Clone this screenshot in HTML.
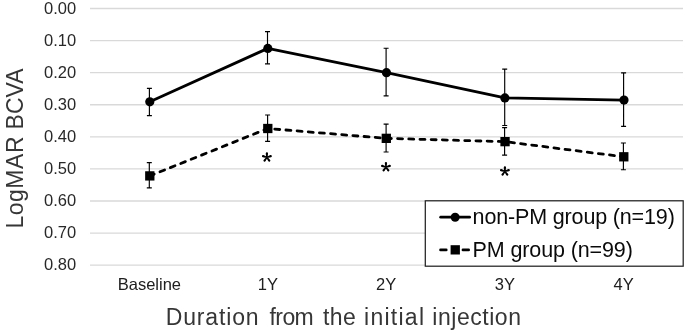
<!DOCTYPE html>
<html><head><meta charset="utf-8">
<style>
html,body{margin:0;padding:0;background:#fff;width:685px;height:332px;overflow:hidden}
svg{display:block;will-change:transform}
text{font-family:"Liberation Sans",sans-serif}
</style></head><body>
<svg width="685" height="332" viewBox="0 0 685 332" fill="#1a1a1a">
<g stroke="#d9d9d9" stroke-width="1.35">
<line x1="90" y1="8.50" x2="683" y2="8.50"/>
<line x1="90" y1="40.58" x2="683" y2="40.58"/>
<line x1="90" y1="72.66" x2="683" y2="72.66"/>
<line x1="90" y1="104.74" x2="683" y2="104.74"/>
<line x1="90" y1="136.82" x2="683" y2="136.82"/>
<line x1="90" y1="168.90" x2="683" y2="168.90"/>
<line x1="90" y1="200.98" x2="683" y2="200.98"/>
<line x1="90" y1="233.06" x2="683" y2="233.06"/>
<line x1="90" y1="265.14" x2="683" y2="265.14"/>
</g>
<g font-size="16.5" text-anchor="end" fill="#282828">
<text x="76.2" y="13.80">0.00</text>
<text x="76.2" y="45.88">0.10</text>
<text x="76.2" y="77.96">0.20</text>
<text x="76.2" y="110.04">0.30</text>
<text x="76.2" y="142.12">0.40</text>
<text x="76.2" y="174.20">0.50</text>
<text x="76.2" y="206.28">0.60</text>
<text x="76.2" y="238.36">0.70</text>
<text x="76.2" y="270.44">0.80</text>
</g>
<g font-size="16.5" text-anchor="middle" fill="#202020">
<text x="149.4" y="289.5">Baseline</text>
<text x="267.9" y="289.5">1Y</text>
<text x="386.1" y="289.5">2Y</text>
<text x="504.8" y="289.5">3Y</text>
<text x="623.7" y="289.5">4Y</text>
</g>
<g font-size="23" fill="#363636" style="fill:#363636">
<text x="165.8" y="324.5" textLength="92.74" lengthAdjust="spacing">Duration</text>
<text x="269.6" y="324.5" textLength="44.1" lengthAdjust="spacing">from</text>
<text x="322.9" y="324.5" textLength="32.88" lengthAdjust="spacing">the</text>
<text x="364" y="324.5" textLength="60.02" lengthAdjust="spacing">initial</text>
<text x="432.3" y="324.5" textLength="88.69" lengthAdjust="spacing">injection</text>
<text transform="translate(22.7,228.6) rotate(-90)" textLength="92.18" lengthAdjust="spacing">LogMAR</text>
<text transform="translate(22.7,129.4) rotate(-90)">BCVA</text>
</g>
<path d="M149.40 88.30V115.60M146.90 88.30H151.90M146.90 115.60H151.90M267.50 31.60V63.90M265.00 31.60H270.00M265.00 63.90H270.00M386.10 48.25V95.90M383.60 48.25H388.60M383.60 95.90H388.60M504.70 69.15V125.45M502.20 69.15H507.20M502.20 125.45H507.20M623.60 72.80V126.30M621.10 72.80H626.10M621.10 126.30H626.10M149.30 162.60V187.80M146.80 162.60H151.80M146.80 187.80H151.80M267.60 115.00V141.30M265.10 115.00H270.10M265.10 141.30H270.10M386.10 124.10V152.00M383.60 124.10H388.60M383.60 152.00H388.60M504.60 127.60V155.10M502.10 127.60H507.10M502.10 155.10H507.10M623.40 143.00V169.70M620.90 143.00H625.90M620.90 169.70H625.90" stroke="#000" stroke-width="1.15" fill="none"/>
<polyline points="149.8,101.8 267.8,48.4 386.5,72.7 504.9,97.95 624.0,100.05" fill="none" stroke="#000" stroke-width="2.8" stroke-linejoin="round" stroke-linecap="round"/>
<g fill="#000"><circle cx="149.8" cy="101.8" r="4.6"/><circle cx="267.8" cy="48.4" r="4.6"/><circle cx="386.5" cy="72.7" r="4.6"/><circle cx="504.9" cy="97.95" r="4.6"/><circle cx="624.0" cy="100.05" r="4.6"/></g>
<polyline points="149.8,175.9 267.8,128.5 386.3,138.35 505.05,141.65 623.8,156.8" fill="none" stroke="#000" stroke-width="2.8" stroke-dasharray="5 6.2" stroke-dashoffset="0.25" stroke-linecap="round" stroke-linejoin="round"/>
<g fill="#000"><rect x="145.15" y="171.25" width="9.3" height="9.3"/><rect x="263.15" y="123.85" width="9.3" height="9.3"/><rect x="381.65" y="133.70" width="9.3" height="9.3"/><rect x="500.40" y="137.00" width="9.3" height="9.3"/><rect x="619.15" y="152.15" width="9.3" height="9.3"/></g>
<path d="M267.60 157.40L268.05 153.40L265.75 153.40L266.20 157.40ZM268.05 153.40A1.15 1.15 0 0 0 265.75 153.40ZM267.12 158.07L271.06 157.26L270.35 155.07L266.68 156.73ZM271.06 157.26A1.15 1.15 0 0 0 270.35 155.07ZM267.12 156.73L263.45 155.07L262.74 157.26L266.68 158.07ZM263.45 155.07A1.15 1.15 0 0 0 262.74 157.26ZM266.33 156.99L263.62 159.96L265.48 161.31L267.47 157.81ZM263.62 159.96A1.15 1.15 0 0 0 265.48 161.31ZM266.33 157.81L268.32 161.31L270.18 159.96L267.47 156.99ZM268.32 161.31A1.15 1.15 0 0 0 270.18 159.96ZM386.65 167.10L387.10 163.10L384.80 163.10L385.25 167.10ZM387.10 163.10A1.15 1.15 0 0 0 384.80 163.10ZM386.17 167.77L390.11 166.96L389.40 164.77L385.73 166.43ZM390.11 166.96A1.15 1.15 0 0 0 389.40 164.77ZM386.17 166.43L382.50 164.77L381.79 166.96L385.73 167.77ZM382.50 164.77A1.15 1.15 0 0 0 381.79 166.96ZM385.38 166.69L382.67 169.66L384.53 171.01L386.52 167.51ZM382.67 169.66A1.15 1.15 0 0 0 384.53 171.01ZM385.38 167.51L387.37 171.01L389.23 169.66L386.52 166.69ZM387.37 171.01A1.15 1.15 0 0 0 389.23 169.66ZM505.60 171.40L506.05 167.40L503.75 167.40L504.20 171.40ZM506.05 167.40A1.15 1.15 0 0 0 503.75 167.40ZM505.12 172.07L509.06 171.26L508.35 169.07L504.68 170.73ZM509.06 171.26A1.15 1.15 0 0 0 508.35 169.07ZM505.12 170.73L501.45 169.07L500.74 171.26L504.68 172.07ZM501.45 169.07A1.15 1.15 0 0 0 500.74 171.26ZM504.33 170.99L501.62 173.96L503.48 175.31L505.47 171.81ZM501.62 173.96A1.15 1.15 0 0 0 503.48 175.31ZM504.33 171.81L506.32 175.31L508.18 173.96L505.47 170.99ZM506.32 175.31A1.15 1.15 0 0 0 508.18 173.96Z" fill="#000"/>
<rect x="425.3" y="200.8" width="257.9" height="65.4" fill="#fff" stroke="#222" stroke-width="1.25"/>
<line x1="440.7" y1="217.2" x2="469.6" y2="217.2" stroke="#000" stroke-width="2.8" stroke-linecap="round"/>
<circle cx="455.15" cy="217.25" r="4.5" fill="#000"/>
<path d="M440.5 249.9H446.3M462.9 249.9H468.7" stroke="#000" stroke-width="2.6" stroke-linecap="round"/>
<rect x="450.6" y="245.2" width="9.3" height="9.3" fill="#000"/>
<g font-size="21.5" style="fill:#0a0a0a">
<text x="472.6" y="223.8" textLength="202.2" lengthAdjust="spacing">non-PM group (n=19)</text>
<text x="472.6" y="256.6" textLength="160.2" lengthAdjust="spacing">PM group (n=99)</text>
</g>
</svg>
</body></html>
